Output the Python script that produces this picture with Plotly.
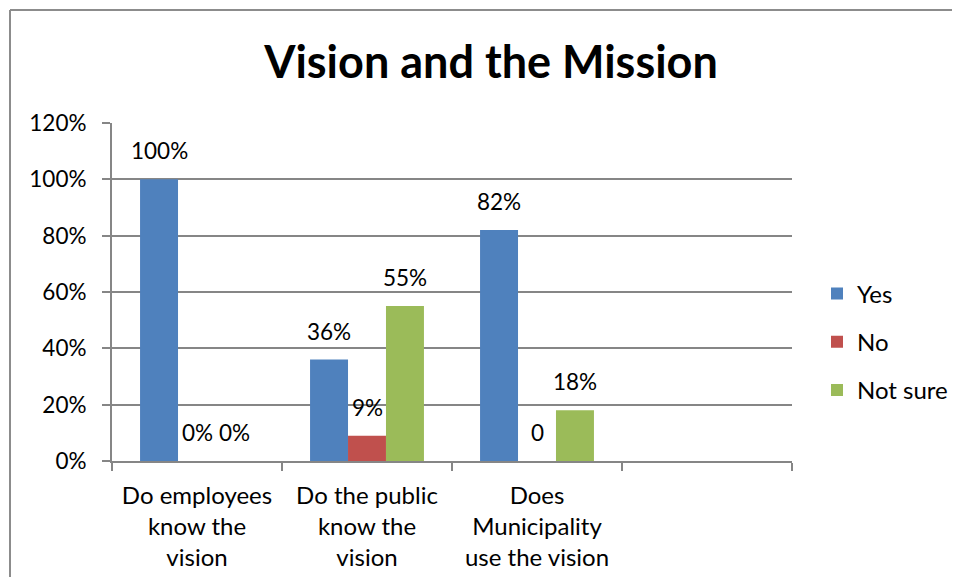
import plotly.graph_objects as go

categories = ["Do employees<br>know the<br>vision", "Do the public<br>know the<br>vision",
              "Does<br>Municipality<br>use the vision", " "]
series_names = ["Yes", "No", "Not sure"]
yes_vals = [1.00, 0.36, 0.82, None]
no_vals = [0.00, 0.09, 0.00, None]
notsure_vals = [0.00, 0.55, 0.18, None]
yes_labels = ["100%", "36%", "82%", ""]
no_labels = ["0%", "9%", "0", ""]
notsure_labels = ["0%", "55%", "18%", ""]
y_tickvals = [0, 0.2, 0.4, 0.6, 0.8, 1.0, 1.2]
y_ticktext = ["0%", "20%", "40%", "60%", "80%", "100%", "120%"]

colors = ["#4F81BD", "#C0504D", "#9BBB59"]
FONT = "Lato"
GRID = "#868686"
BARGAP = 0.33
OFF = 8  # page body margin offset
W, H = 960 - 2 * OFF, 585 - 2 * OFF

series_vals = [yes_vals, no_vals, notsure_vals]
series_labels = [yes_labels, no_labels, notsure_labels]

fig = go.Figure()
for i, (name, vals) in enumerate(zip(series_names, series_vals)):
    fig.add_trace(go.Bar(x=categories, y=vals, name=name, marker_color=colors[i],
                         marker_line_width=0, legendgroup=name))

n = len(series_names)
group_w = 1 - BARGAP
for i, (vals, labs) in enumerate(zip(series_vals, series_labels)):
    for j, (v, lab) in enumerate(zip(vals, labs)):
        if v is None or lab == "":
            continue
        xpos = j - group_w / 2 + (i + 0.5) * group_w / n
        fig.add_annotation(x=xpos, y=v, text=lab, showarrow=False, yanchor="bottom",
                           yshift=13, font=dict(family=FONT, size=22.5, color="#000"))

fig.update_layout(
    width=W, height=H,
    margin=dict(l=112 - OFF, r=W - (792 - OFF), t=123 - OFF, b=H - (461 - OFF), autoexpand=False),
    paper_bgcolor="white", plot_bgcolor="white",
    bargap=BARGAP, bargroupgap=0,
    barmode="group",
    title=dict(text="<b>Vision and the Mission</b>", xref="container", yref="container",
               x=(491 - OFF) / W, xanchor="center", y=1 - (62 - OFF) / H, yanchor="middle",
               font=dict(family=FONT, size=45, color="#000")),
    legend=dict(x=(817 - 112) / 680, xanchor="left", y=(461 - 342) / 338, yanchor="middle",
                traceorder="grouped", tracegroupgap=14,
                font=dict(family=FONT, size=24, color="#000"),
                bgcolor="rgba(0,0,0,0)"),
    font=dict(family=FONT, size=22, color="#000"),
    showlegend=True,
)
fig.update_xaxes(type="category", range=[-0.5, 3.5], showline=True, linecolor=GRID, linewidth=2,
                 ticks="outside", tickson="boundaries", ticklen=8, tickcolor=GRID, tickwidth=2,
                 showgrid=False, tickfont=dict(family=FONT, size=24, color="#000"),
                 ticklabelstandoff=12, automargin=False)
fig.update_yaxes(range=[0, 1.2], tickvals=y_tickvals, ticktext=y_ticktext,
                 showline=True, linecolor=GRID, linewidth=2,
                 showgrid=True, gridcolor=GRID, gridwidth=2,
                 ticks="outside", ticklen=8, tickcolor=GRID, tickwidth=2,
                 tickfont=dict(family=FONT, size=22.5, color="#000"),
                 ticklabelstandoff=11, zeroline=False, automargin=False)

# outer chart frame: left and top edges (others lie outside the visible window)
bx0 = (10 - 112) / 680
by1 = (461 - 10) / 338
fig.add_shape(type="line", xref="paper", yref="paper", x0=bx0, x1=bx0, y0=-0.6, y1=by1,
              line=dict(color="#8C8C8C", width=2), layer="below")
fig.add_shape(type="line", xref="paper", yref="paper", x0=bx0, x1=1.6, y0=by1, y1=by1,
              line=dict(color="#8C8C8C", width=2), layer="below")

fig.write_html("out.html")
